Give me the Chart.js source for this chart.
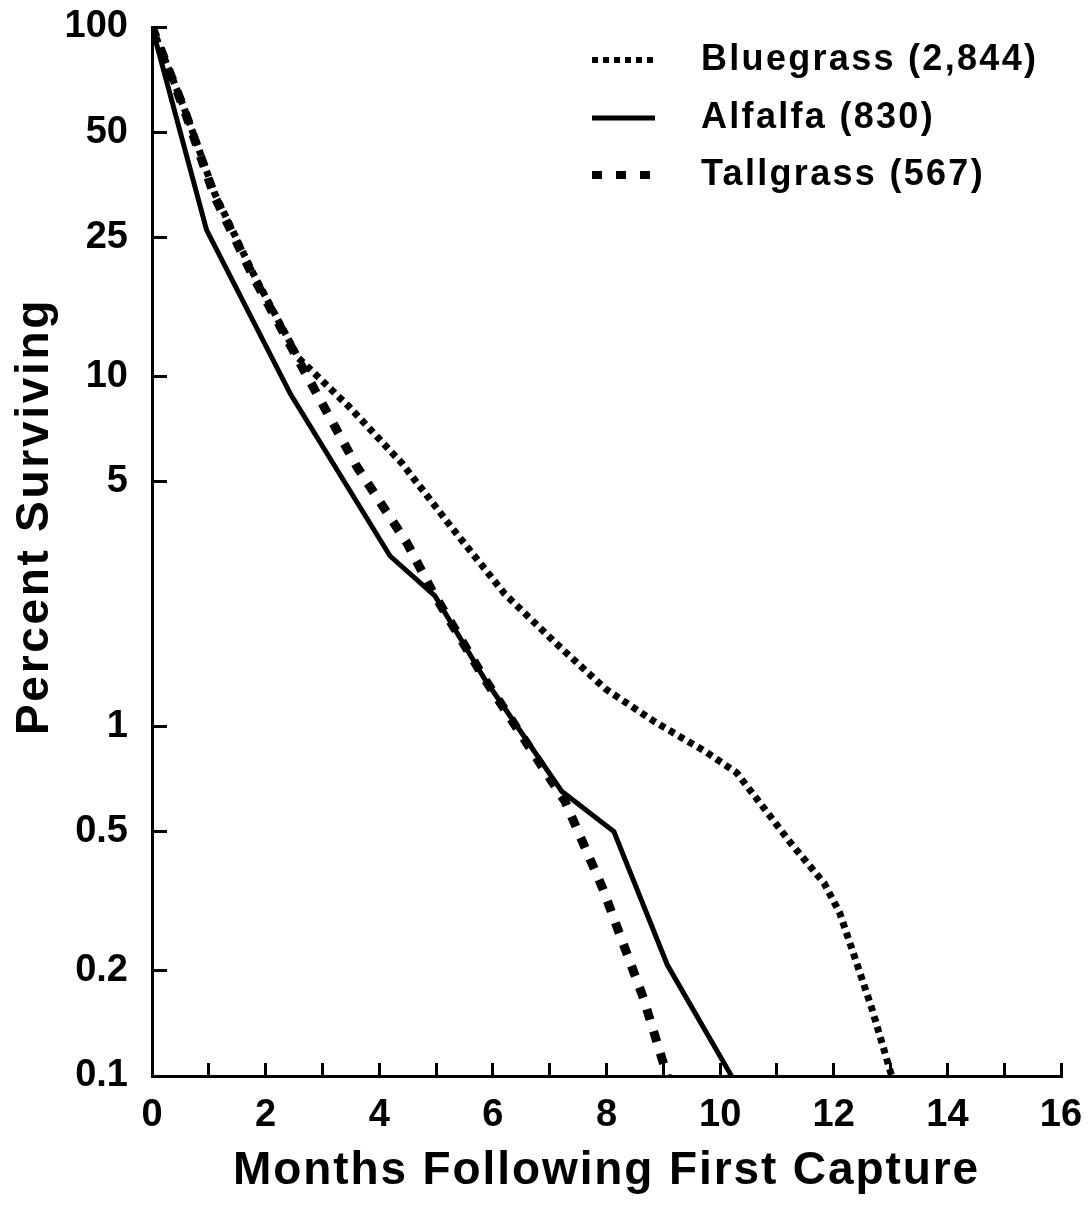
<!DOCTYPE html>
<html><head><meta charset="utf-8">
<script src="https://cdn.jsdelivr.net/npm/chart.js@4/dist/chart.umd.min.js"></script>
<style>html,body{margin:0;padding:0;background:#fff}#wrap{width:1091px;height:1213px;position:relative}</style>
</head><body><div id="wrap"><canvas id="c"></canvas></div>
<script>
// ---- data ----
const seriesNames = ['Bluegrass (2,844)', 'Alfalfa (830)', 'Tallgrass (567)'];

const bluegrassMonths  = [0, 0.56, 1.10, 1.79, 2.58, 3.47, 4.40, 5.30, 6.21, 7.09, 7.98, 8.85, 9.75, 10.29, 10.68, 11.25, 11.83, 12.10, 12.38, 12.67, 13.02];
const bluegrassPercent = [100, 59, 33.5, 19.6, 11.3, 8.2, 5.65, 3.66, 2.39, 1.74, 1.28, 1.03, 0.845, 0.737, 0.61, 0.462, 0.356, 0.294, 0.216, 0.156, 0.1];

const alfalfaMonths  = [0, 0.96, 2.44, 4.19, 4.98, 5.85, 7.21, 8.13, 9.07, 10.2];
const alfalfaPercent = [100, 26.3, 8.9, 3.07, 2.36, 1.37, 0.652, 0.5, 0.208, 0.1];

const tallgrassMonths  = [0, 0.56, 1.10, 1.79, 2.61, 3.60, 4.49, 4.93, 5.85, 7.27, 7.93, 8.65, 9.07];
const tallgrassPercent = [100, 58.5, 32.8, 19.2, 10.9, 5.55, 3.34, 2.44, 1.37, 0.61, 0.345, 0.167, 0.1];

const xMin = 0, xMax = 16, xStep = 1, xLabelEvery = 2;
const yTickValues = [0.1, 0.2, 0.5, 1, 5, 10, 25, 50, 100];
const yTickLabels = ['0.1', '0.2', '0.5', '1', '5', '10', '25', '50', '100'];
const xTitle = 'Months Following First Capture';
const yTitle = 'Percent Surviving';

// ---- build ----
const pts = (xs, ys) => xs.map((x, i) => ({x, y: ys[i]}));
const FONT = '"Liberation Sans", Arial, Helvetica, sans-serif';

const datasets = [
  {label: seriesNames[0], data: pts(bluegrassMonths, bluegrassPercent), borderColor: '#000', borderWidth: 7, borderDash: [6, 5], legendWidth: 6, legendDash: [6, 5]},
  {label: seriesNames[1], data: pts(alfalfaMonths, alfalfaPercent), borderColor: '#000', borderWidth: 5, borderDash: [], legendWidth: 5, legendDash: []},
  {label: seriesNames[2], data: pts(tallgrassMonths, tallgrassPercent), borderColor: '#000', borderWidth: 9, borderDash: [11, 12], legendWidth: 8, legendDash: [10, 14]}
].map(d => Object.assign(d, {fill: false, tension: 0, pointRadius: 0, borderCapStyle: 'butt', borderJoinStyle: 'miter'}));

const legendRows = [60, 118, 175];

const zeroPad = s => { s.paddingTop = 0; s.paddingBottom = 0; s.paddingLeft = 0; s.paddingRight = 0; };

const customPlugin = {
  id: 'custom',
  afterLayout(chart) {
    const ys = chart.scales.y, xs = chart.scales.x;
    if (!ys._wrapped) {
      const o = ys.drawTitle;
      ys.drawTitle = function () { const c = this.ctx; c.save(); c.letterSpacing = '2.7px'; c.translate(0, -35); o.call(this); c.restore(); };
      ys._wrapped = true;
    }
    if (!xs._wrapped) {
      const o = xs.drawTitle;
      xs.drawTitle = function () { const c = this.ctx; c.save(); c.letterSpacing = '1.9px'; o.call(this); c.restore(); };
      xs._wrapped = true;
    }
  },
  afterDraw(chart) {
    const ctx = chart.ctx;
    chart.data.datasets.forEach((ds, i) => {
      const y = legendRows[i];
      ctx.save();
      ctx.strokeStyle = ds.borderColor;
      ctx.lineWidth = ds.legendWidth;
      ctx.lineCap = 'butt';
      ctx.setLineDash(ds.legendDash);
      ctx.beginPath();
      ctx.moveTo(592, y);
      ctx.lineTo(655, y);
      ctx.stroke();
      ctx.setLineDash([]);
      ctx.fillStyle = '#000';
      ctx.font = 'bold 36px ' + FONT;
      ctx.letterSpacing = '2.3px';
      ctx.textBaseline = 'middle';
      ctx.textAlign = 'left';
      ctx.fillText(ds.label, 701, y);
      ctx.restore();
    });
  }
};

new Chart(document.getElementById('c'), {
  type: 'line',
  data: {datasets},
  plugins: [customPlugin],
  options: {
    responsive: true,
    maintainAspectRatio: false,
    animation: false,
    devicePixelRatio: 1,
    layout: {padding: {top: 27, right: 30, left: 0, bottom: 0}},
    plugins: {legend: {display: false}, tooltip: {enabled: false}},
    scales: {
      x: {
        type: 'linear', min: xMin, max: xMax,
        afterFit: s => { s.height = 137; zeroPad(s); },
        border: {display: true, color: '#000', width: 3},
        grid: {drawOnChartArea: false, drawTicks: true, tickLength: -13, tickWidth: 3, tickColor: '#000'},
        ticks: {
          stepSize: xStep, autoSkip: false, maxRotation: 0, color: '#000', padding: 30,
          font: {family: FONT, size: 38, weight: 'bold'},
          callback: v => (v % xLabelEvery === 0 ? String(v) : '')
        },
        title: {display: true, text: xTitle, color: '#000', font: {family: FONT, size: 46, weight: 'bold'}, padding: {top: 0, bottom: 14}}
      },
      y: {
        type: 'logarithmic', min: yTickValues[0], max: yTickValues[yTickValues.length - 1],
        afterFit: s => { s.width = 152; zeroPad(s); },
        afterBuildTicks: s => { s.ticks = yTickValues.map(v => ({value: v})); },
        border: {display: true, color: '#000', width: 3},
        grid: {drawOnChartArea: false, drawTicks: true, tickLength: -15, tickWidth: 3, tickColor: '#000'},
        ticks: {
          autoSkip: false, color: '#000', padding: 39,
          font: {family: FONT, size: 38, weight: 'bold'},
          callback: v => { const i = yTickValues.indexOf(v); return i >= 0 ? yTickLabels[i] : ''; }
        },
        title: {display: true, text: yTitle, color: '#000', font: {family: FONT, size: 46, weight: 'bold'}, padding: {top: 8, bottom: 0}}
      }
    }
  }
});
</script></body></html>
